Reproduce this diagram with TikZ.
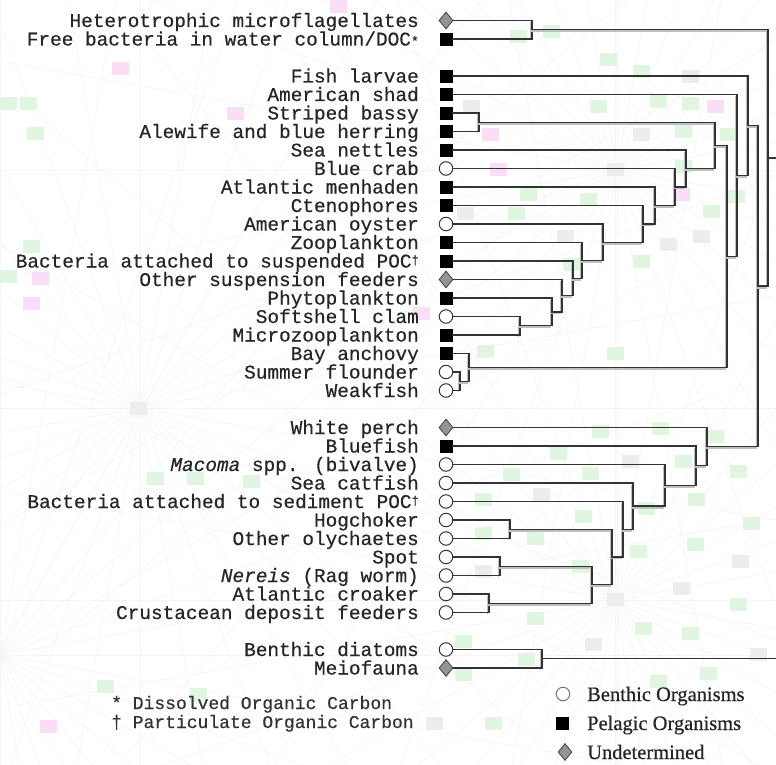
\documentclass[tikz,border=0pt]{standalone}
\usepackage{fontspec}
\setmainfont{Liberation Serif}
\setmonofont{Liberation Mono}
\newfontfamily\labmono{Liberation Mono}[FakeBold=0.5]
\newfontfamily\keyserif{Liberation Serif}[FakeBold=0.6]
\usetikzlibrary{shapes.geometric,calc}

\definecolor{bgG}{RGB}{224,246,224}
\definecolor{bgP}{RGB}{250,222,248}
\definecolor{bgK}{RGB}{237,237,237}

\newcommand\labfont{\labmono\fontsize{19.4pt}{20pt}\selectfont}
\newcommand\notefont{\labmono\fontsize{18pt}{19pt}\selectfont}
\newcommand\keyfont{\keyserif\fontsize{20.5pt}{22pt}\selectfont}
\newcommand\supmark[1]{{\fontsize{12pt}{12pt}\selectfont\raisebox{3.5pt}{#1}}}

% one leaf of the tree: name, marker style, row, label
\newcommand\leaf[4]{%
  \node[#2] (#1) at (446,{20.5+18.5*(#3)}) {};
  \node[lab] (#1-t) at ([xshift=-27pt,yshift=-6.5pt]#1.center) {#4};}

% a join: name, x position, upper child, lower child
\newcommand\mkjoin[4]{%
  \coordinate (#1-x) at (#2,0);
  \coordinate (#1-m) at ($(#3.center)!0.5!(#4.center)$);
  \coordinate (#1) at (#1-m -| #1-x);
  \draw[branch] (#1 |- #3) -- (#1 |- #4);}

% horizontal pieces: from a leaf marker, or from a lower join
\newcommand\hleaf[2]{\draw[leafline] (#1.east) -- (#1 -| #2);}
\newcommand\hbranch[2]{\draw[branch] (#1) -- (#1 -| #2);}

\begin{document}
\begin{tikzpicture}[x=1pt,y=-1pt,
  benthic/.style={circle, draw=black!80, fill=white, line width=1pt,
    minimum size=13.5pt, inner sep=0pt},
  pelagic/.style={rectangle, fill=black, draw=black, minimum size=12pt,
    inner sep=0pt},
  undet/.style={diamond, draw=black!75, fill=black!42, line width=0.8pt,
    minimum width=14pt, minimum height=17pt, inner sep=0pt},
  lab/.style={anchor=base east, inner sep=0pt, text=black!85, font=\labfont},
  leafline/.style={draw=black!80, line width=1.3pt},
  branch/.style={draw=black!80, line width=1.3pt, line cap=rect,
    preaction={draw=black!25, line width=1.8pt,
      transform canvas={shift={(-1.5pt,-1.5pt)}}}},
]
\useasboundingbox (0,0) rectangle (776,765);
\fill[white] (0,0) rectangle (776,765);

% faint background texture
\begin{scope}
  \clip (0,0) rectangle (776,765);
  \foreach \cx/\cy in {140/408, 617/170, 615/600, 0/655}{
    \foreach \a in {0,10,...,350}
      \draw[black!4, line width=0.6pt] (\cx,\cy) -- ++(\a:760);
  }
  \foreach \px/\py in {510/30,543/25,600/53,633/65,590/100,650/95,682/97,
      675/125,720/128,675/160,520/188,728/190,580/193,508/207,703/205,
      633/255,563/258,477/345,607/347,592/425,652/422,707/430,550/447,
      675/455,503/468,582/467,730/465,475/493,688/493,575/510,638/502,
      743/517,527/532,687/538,475/527,630/545,572/560,730/598,527/612,
      635/622,682/627,455/635,518/653,700/667,455/668,650/675,0/97,20/97,
      27/127,23/240,0/270,147/472,187/472,243/475,97/680,190/688,485/717}
    \fill[bgG] (\px,\py) rectangle ++(17,13);
  \foreach \px/\py in {707/100,482/128,490/163,673/188,413/307,112/62,
      227/107,330/0,32/272,23/297,40/720}
    \fill[bgP] (\px,\py) rectangle ++(17,13);
  \foreach \px/\py in {682/70,463/100,633/128,607/163,457/207,557/230,
      660/238,693/230,622/455,533/488,732/555,475/565,607/593,673/582,
      585/638,750/648,426/717,130/402}
    \fill[bgK] (\px,\py) rectangle ++(17,13);
\end{scope}

% leaves
\leaf{Hetero}{undet}{0}{Heterotrophic microflagellates}
\leaf{Free}{pelagic}{1}{Free bacteria in water column/DOC{\fontsize{13pt}{13pt}\selectfont *}}
\leaf{Fish}{pelagic}{3}{Fish larvae}
\leaf{Shad}{pelagic}{4}{American shad}
\leaf{Striped}{pelagic}{5}{Striped bassy}
\leaf{Alewife}{pelagic}{6}{Alewife and blue herring}
\leaf{Nettles}{pelagic}{7}{Sea nettles}
\leaf{Crab}{benthic}{8}{Blue crab}
\leaf{Menhaden}{pelagic}{9}{Atlantic menhaden}
\leaf{Cteno}{pelagic}{10}{Ctenophores}
\leaf{Oyster}{benthic}{11}{American oyster}
\leaf{Zoop}{pelagic}{12}{Zooplankton}
\leaf{BactS}{pelagic}{13}{Bacteria attached to suspended POC\supmark{†}}
\leaf{OSF}{undet}{14}{Other suspension feeders}
\leaf{Phyto}{pelagic}{15}{Phytoplankton}
\leaf{Soft}{benthic}{16}{Softshell clam}
\leaf{Micro}{pelagic}{17}{Microzooplankton}
\leaf{Anchovy}{pelagic}{18}{Bay anchovy}
\leaf{Flounder}{benthic}{19}{Summer flounder}
\leaf{Weak}{benthic}{20}{Weakfish}
\leaf{Perch}{undet}{22}{White perch}
\leaf{Bluefish}{pelagic}{23}{Bluefish}
\leaf{Macoma}{benthic}{24}{\textit{Macoma} spp. (bivalve)}
\leaf{Catfish}{benthic}{25}{Sea catfish}
\leaf{BactD}{benthic}{26}{Bacteria attached to sediment POC\supmark{†}}
\leaf{Hog}{benthic}{27}{Hogchoker}
\leaf{Olych}{benthic}{28}{Other olychaetes}
\leaf{Spot}{benthic}{29}{Spot}
\leaf{Nereis}{benthic}{30}{\textit{Nereis} (Rag worm)}
\leaf{Croaker}{benthic}{31}{Atlantic croaker}
\leaf{Crust}{benthic}{32}{Crustacean deposit feeders}
\leaf{Diatoms}{benthic}{34}{Benthic diatoms}
\leaf{Meio}{undet}{35}{Meiofauna}

% joins, from the innermost outwards
\mkjoin{jHF}{532}{Hetero}{Free}
\mkjoin{jSA}{479}{Striped}{Alewife}
\mkjoin{jSM}{520}{Soft}{Micro}
\mkjoin{jSW}{460}{Flounder}{Weak}
\mkjoin{jAn}{469}{Anchovy}{jSW}
\mkjoin{jPh}{552}{Phyto}{jSM}
\mkjoin{jOS}{562}{OSF}{jPh}
\mkjoin{jBS}{573}{BactS}{jOS}
\mkjoin{jZo}{582}{Zoop}{jBS}
\mkjoin{jOy}{603}{Oyster}{jZo}
\mkjoin{jCt}{643}{Cteno}{jOy}
\mkjoin{jMe}{655}{Menhaden}{jCt}
\mkjoin{jBC}{675}{Crab}{jMe}
\mkjoin{jSN}{686}{Nettles}{jBC}
\mkjoin{jSB}{715}{jSA}{jSN}
\mkjoin{jUp}{727}{jSB}{jAn}
\mkjoin{jSh}{737}{Shad}{jUp}
\mkjoin{jFi}{748}{Fish}{jSh}
\mkjoin{jHO}{510}{Hog}{Olych}
\mkjoin{jSR}{500}{Spot}{Nereis}
\mkjoin{jCC}{489}{Croaker}{Crust}
\mkjoin{jSC}{592}{jSR}{jCC}
\mkjoin{jHS}{612}{jHO}{jSC}
\mkjoin{jBP}{623}{BactD}{jHS}
\mkjoin{jCa}{633}{Catfish}{jBP}
\mkjoin{jMa}{665}{Macoma}{jCa}
\mkjoin{jBl}{696}{Bluefish}{jMa}
\mkjoin{jWP}{707}{Perch}{jBl}
\mkjoin{jMid}{758}{jFi}{jWP}
\mkjoin{jRoot}{768}{jHF}{jMid}
\mkjoin{jBM}{542}{Diatoms}{Meio}

% leaf lines
\hleaf{Hetero}{jHF} \hleaf{Free}{jHF}
\hleaf{Fish}{jFi} \hleaf{Shad}{jSh}
\hleaf{Striped}{jSA} \hleaf{Alewife}{jSA}
\hleaf{Nettles}{jSN} \hleaf{Crab}{jBC}
\hleaf{Menhaden}{jMe} \hleaf{Cteno}{jCt}
\hleaf{Oyster}{jOy} \hleaf{Zoop}{jZo}
\hleaf{BactS}{jBS} \hleaf{OSF}{jOS}
\hleaf{Phyto}{jPh} \hleaf{Soft}{jSM} \hleaf{Micro}{jSM}
\hleaf{Anchovy}{jAn} \hleaf{Flounder}{jSW} \hleaf{Weak}{jSW}
\hleaf{Perch}{jWP} \hleaf{Bluefish}{jBl}
\hleaf{Macoma}{jMa} \hleaf{Catfish}{jCa} \hleaf{BactD}{jBP}
\hleaf{Hog}{jHO} \hleaf{Olych}{jHO}
\hleaf{Spot}{jSR} \hleaf{Nereis}{jSR}
\hleaf{Croaker}{jCC} \hleaf{Crust}{jCC}
\hleaf{Diatoms}{jBM} \hleaf{Meio}{jBM}

% branch lines between joins
\hbranch{jSW}{jAn}
\hbranch{jSM}{jPh} \hbranch{jPh}{jOS} \hbranch{jOS}{jBS}
\hbranch{jBS}{jZo} \hbranch{jZo}{jOy} \hbranch{jOy}{jCt}
\hbranch{jCt}{jMe} \hbranch{jMe}{jBC} \hbranch{jBC}{jSN}
\hbranch{jSA}{jSB} \hbranch{jSN}{jSB}
\hbranch{jSB}{jUp} \hbranch{jAn}{jUp}
\hbranch{jUp}{jSh} \hbranch{jSh}{jFi}
\hbranch{jSR}{jSC} \hbranch{jCC}{jSC}
\hbranch{jHO}{jHS} \hbranch{jSC}{jHS}
\hbranch{jHS}{jBP} \hbranch{jBP}{jCa} \hbranch{jCa}{jMa}
\hbranch{jMa}{jBl} \hbranch{jBl}{jWP}
\hbranch{jFi}{jMid} \hbranch{jWP}{jMid}
\hbranch{jHF}{jRoot} \hbranch{jMid}{jRoot}

% the two trees run on past the right edge
\coordinate (edge) at (776,0);
\draw[leafline] (jRoot) -- (jRoot -| edge);
\draw[leafline] (jBM) -- (jBM -| edge);

% notes
\node[anchor=base west, inner sep=0pt, text=black!80, font=\notefont]
  (noteDOC) at (111,709) {* Dissolved Organic Carbon};
\node[anchor=base west, inner sep=0pt, text=black!80, font=\notefont]
  (notePOC) at (111,728) {† Particulate Organic Carbon};

% key
\node[benthic, draw=black!55] (keyB) at (563,694) {};
\node[pelagic] (keyP) at (562,723) {};
\node[undet] (keyU) at (565,752) {};
\node[anchor=base west, inner sep=0pt, text=black!85, font=\keyfont]
  (keyBt) at (587,701) {Benthic Organisms};
\node[anchor=base west, inner sep=0pt, text=black!85, font=\keyfont]
  (keyPt) at (587,730) {Pelagic Organisms};
\node[anchor=base west, inner sep=0pt, text=black!85, font=\keyfont]
  (keyUt) at (587,759) {Undetermined};
\end{tikzpicture}
\end{document}
